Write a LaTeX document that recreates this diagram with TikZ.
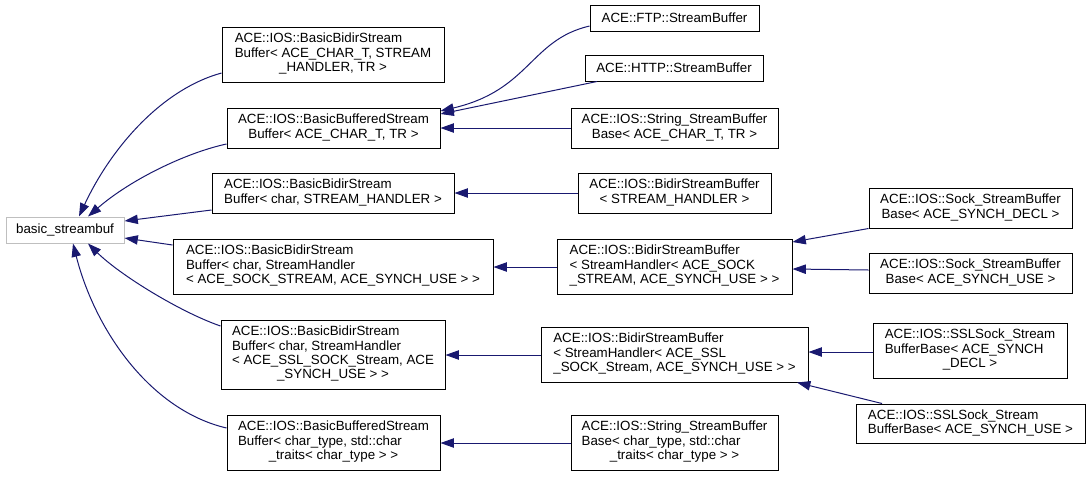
\documentclass[tikz,border=0pt]{standalone}
\usepackage{fontspec}
\setmainfont{Liberation Sans}
\usetikzlibrary{arrows.meta}
\definecolor{edgeblue}{HTML}{191970}
\definecolor{graybox}{HTML}{BFBFBF}
\newcommand\dxlines[1]{\begin{tabular}{@{}l@{}}#1\end{tabular}}
\newcommand\lastrow[1]{\multicolumn{1}{@{}c@{}}{#1}}
\newcommand\dxbox[7][]{\node[box,#1,minimum width={(#5-#3)*0.75pt},minimum height={(#6-#4)*0.75pt}] (#2) at ({(#3+#5)/2},{(#4+#6)/2}) {#7};}
\renewcommand\arraystretch{0.9}
\begin{document}
\begin{tikzpicture}[x=0.75pt,y=-0.75pt,
  box/.style={draw=black,line width=0.75pt,inner sep=0pt,font=\fontsize{10}{12}\selectfont,align=center},
  inh/.style={draw=edgeblue,line width=0.75pt,-{Triangle[length=10pt,width=7pt,fill=edgeblue]}}]
\useasboundingbox (0,0) rectangle (1091,476);
\fill[white] (0,0) rectangle (1091,476);
\dxbox[draw=graybox]{basic}{6}{217}{124}{243}{basic\_streambuf}
\dxbox{n2}{222}{27}{444}{82}{\dxlines{ACE::IOS::BasicBidirStream\\Buffer< ACE\_CHAR\_T, STREAM\\\lastrow{\_HANDLER, TR >}}}
\dxbox{n3}{227}{108}{440}{148}{\dxlines{ACE::IOS::BasicBufferedStream\\\lastrow{Buffer< ACE\_CHAR\_T, TR >}}}
\dxbox{ftp}{590}{5}{759}{31}{ACE::FTP::StreamBuffer}
\dxbox{http}{585}{55}{763}{81}{ACE::HTTP::StreamBuffer}
\dxbox{n6}{571}{108}{778}{148}{\dxlines{ACE::IOS::String\_StreamBuffer\\\lastrow{Base< ACE\_CHAR\_T, TR >}}}
\dxbox{n7}{212}{173}{454}{213}{\dxlines{ACE::IOS::BasicBidirStream\\\lastrow{Buffer< char, STREAM\_HANDLER >}}}
\dxbox{n8}{578}{173}{771}{213}{\dxlines{ACE::IOS::BidirStreamBuffer\\\lastrow{< STREAM\_HANDLER >}}}
\dxbox{n9}{173}{239}{493}{294}{\dxlines{ACE::IOS::BasicBidirStream\\Buffer< char, StreamHandler\\\lastrow{< ACE\_SOCK\_STREAM, ACE\_SYNCH\_USE > >}}}
\dxbox{n10}{557}{239}{792}{294}{\dxlines{ACE::IOS::BidirStreamBuffer\\< StreamHandler< ACE\_SOCK\\\lastrow{\_STREAM, ACE\_SYNCH\_USE > >}}}
\dxbox{n11}{869}{188}{1072}{228}{\dxlines{ACE::IOS::Sock\_StreamBuffer\\\lastrow{Base< ACE\_SYNCH\_DECL >}}}
\dxbox{n12}{869}{253}{1072}{293}{\dxlines{ACE::IOS::Sock\_StreamBuffer\\\lastrow{Base< ACE\_SYNCH\_USE >}}}
\dxbox{n13}{221}{320}{445}{389}{\dxlines{ACE::IOS::BasicBidirStream\\Buffer< char, StreamHandler\\< ACE\_SSL\_SOCK\_Stream, ACE\\\lastrow{\_SYNCH\_USE > >}}}
\dxbox{n14}{227}{415}{440}{470}{\dxlines{ACE::IOS::BasicBufferedStream\\Buffer< char\_type, std::char\\\lastrow{\_traits< char\_type > >}}}
\dxbox{n15}{541}{327}{808}{382}{\dxlines{ACE::IOS::BidirStreamBuffer\\< StreamHandler< ACE\_SSL\\\lastrow{\_SOCK\_Stream, ACE\_SYNCH\_USE > >}}}
\dxbox{n16}{873}{323}{1067}{378}{\dxlines{ACE::IOS::SSLSock\_Stream\\BufferBase< ACE\_SYNCH\\\lastrow{\_DECL >}}}
\dxbox{n17}{856}{404}{1085}{443}{\dxlines{ACE::IOS::SSLSock\_Stream\\\lastrow{BufferBase< ACE\_SYNCH\_USE >}}}
\dxbox{n18}{571}{415}{778}{470}{\dxlines{ACE::IOS::String\_StreamBuffer\\Base< char\_type, std::char\\\lastrow{\_traits< char\_type > >}}}
% edges to basic_streambuf
\draw[inh] (n2.west |- 0,73) .. controls (160,90) and (110,150) .. (basic.north -| 79,0);
\draw[inh] (n3.west |- 0,144) .. controls (185,153) and (130,180) .. (basic.north -| 88,0);
\draw[inh] (n7.west |- 0,210) -- (basic.east |- 0,221);
\draw[inh] (n9.west |- 0,245) -- (basic.east |- 0,238);
\draw[inh] (n13.west |- 0,326) .. controls (180,312) and (120,275) .. (basic.south -| 88,0);
\draw[inh] (n14.west |- 0,428) .. controls (150,410) and (95,330) .. (basic.south -| 73,0);
% other edges
\draw[inh] (ftp.west |- 0,26) .. controls (530,40) and (530,90) .. (n3.east |- 0,111);
\draw[inh] (http.south -| 597,0) -- (n3.east |- 0,114);
\draw[inh] (n6.west) -- (n3.east);
\draw[inh] (n8.west) -- (n7.east);
\draw[inh] (n10.west |- 0,267) -- (n9.east |- 0,267);
\draw[inh] (n11.south west) -- (n10.east |- 0,242);
\draw[inh] (n12.west |- 0,270) -- (n10.east |- 0,269);
\draw[inh] (n15.west |- 0,355) -- (n13.east |- 0,355);
\draw[inh] (n16.west |- 0,352) -- (n15.east |- 0,352);
\draw[inh] (n17.north -| 882,0) -- (n15.south -| 797,0);
\draw[inh] (n18.west |- 0,443) -- (n14.east |- 0,443);
\end{tikzpicture}
\end{document}
